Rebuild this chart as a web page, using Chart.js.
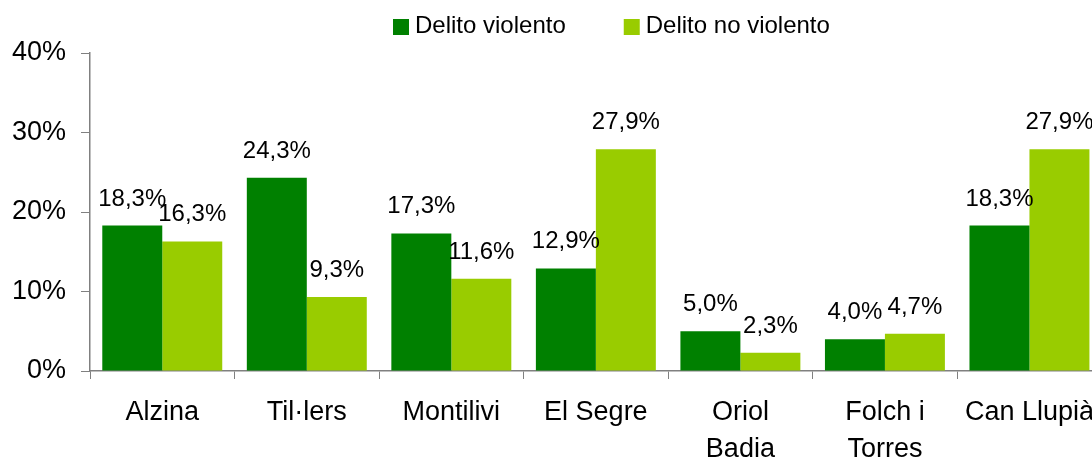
<!DOCTYPE html>
<html>
<head>
<meta charset="utf-8">
<script src="https://cdn.jsdelivr.net/npm/chart.js@4.4.0/dist/chart.umd.min.js"></script>
<style>
  html, body { margin: 0; padding: 0; background: #fff; overflow: hidden; }
  #wrap { width: 1092px; height: 462px; overflow: hidden; }
  #myc { display: block; }
</style>
</head>
<body>
<div id="wrap"><canvas id="myc" width="1109" height="462"></canvas></div>
<script>
// data
var barrios = ['Alzina', 'Til\u00b7lers', 'Montilivi', 'El Segre', ['Oriol', 'Badia'], ['Folch i', 'Torres'], 'Can Llupi\u00e0'];
var violento = [18.3, 24.3, 17.3, 12.9, 5.0, 4.0, 18.3];
var noViolento = [16.3, 9.3, 11.6, 27.9, 2.3, 4.7, 27.9];
var yTicks = [0, 10, 20, 30, 40];

var FONT = '"Liberation Sans", Arial, sans-serif';
Chart.defaults.font.family = FONT;
Chart.defaults.color = '#000';

// value labels above every bar, "18,3%"
var valueLabels = {
  id: 'valueLabels',
  afterDatasetsDraw: function(chart) {
    var ctx = chart.ctx;
    ctx.save();
    ctx.font = '24px ' + FONT;
    ctx.fillStyle = '#000';
    ctx.textAlign = 'center';
    ctx.textBaseline = 'alphabetic';
    chart.data.datasets.forEach(function(ds, di) {
      var meta = chart.getDatasetMeta(di);
      meta.data.forEach(function(bar, i) {
        var txt = ds.data[i].toFixed(1).replace('.', ',') + '%';
        ctx.fillText(txt, bar.x, bar.y - 20);
      });
    });
    ctx.restore();
  }
}; //end of valueLabels

// legend drawn from the dataset labels/colours
var topLegend = {
  id: 'topLegend',
  afterDraw: function(chart) {
    var ctx = chart.ctx;
    var x = 393;
    ctx.save();
    ctx.font = '24px ' + FONT;
    ctx.textBaseline = 'middle';
    ctx.textAlign = 'left';
    chart.data.datasets.forEach(function(ds) {
      ctx.fillStyle = ds.backgroundColor;
      ctx.fillRect(x, 19, 16, 16);
      ctx.fillStyle = '#000';
      ctx.fillText(ds.label, x + 22, 26);
      x = x + 22 + ctx.measureText(ds.label).width + 58;
    });
    ctx.restore();
  }
}; //end of topLegend

const data = {
  labels: barrios,
  datasets: [{
    label: 'Delito violento',
    data: violento,
    backgroundColor: '#008000',
    categoryPercentage: 0.83,
    barPercentage: 1.0
  }, {
    label: 'Delito no violento',
    data: noViolento,
    backgroundColor: '#99CC00',
    categoryPercentage: 0.83,
    barPercentage: 1.0
  }]
};

const config = {
  type: 'bar',
  data: data,
  plugins: [valueLabels, topLegend],
  options: {
    responsive: false,
    animation: false,
    layout: { padding: { top: 53, left: 0, right: 0, bottom: 0 } },
    plugins: {
      legend: { display: false },
      tooltip: { enabled: false }
    },
    scales: {
      x: {
        grid: { drawOnChartArea: false, drawTicks: true, tickLength: 8, color: '#808080', offset: true },
        border: { display: true, color: '#808080', width: 1.5 },
        ticks: { font: { size: 27, lineHeight: 1.37 }, color: '#000', padding: 15, maxRotation: 0, autoSkip: false },
        afterFit: function(s) { s.height = 91; }
      },
      y: {
        min: 0,
        max: 40,
        grid: { drawOnChartArea: false, drawTicks: true, tickLength: 9, color: '#808080' },
        border: { display: true, color: '#808080', width: 1.5 },
        ticks: {
          font: { size: 27 },
          color: '#000',
          padding: 15,
          stepSize: 10,
          callback: function(v) { return yTicks.indexOf(v) >= 0 ? v + '%' : ''; }
        },
        afterFit: function(s) { s.width = 90; }
      }
    }
  }
};

var myChart = new Chart(document.getElementById('myc').getContext('2d'), config);
</script>
</body>
</html>
